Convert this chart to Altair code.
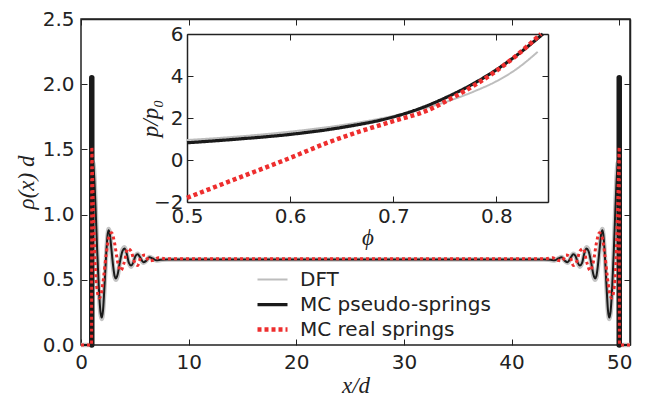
import altair as alt
import pandas as pd

# ---------------- main panel: density profiles rho(x) d vs x/d ----------------
dft_x = [0, 0.98, 1.0, 1.05, 1.12, 1.22, 1.35, 1.5, 1.65, 1.8, 1.92, 2.05, 2.2, 2.35, 2.48,
         2.57, 2.68, 2.82, 2.98, 3.12, 3.25, 3.4, 3.6, 3.85, 4.05, 4.25, 4.45, 4.65, 4.85,
         5.05, 5.27, 5.5, 5.79, 6.05, 6.35, 6.65, 7.0, 7.4, 8.0, 25.5,
         43.0, 43.6, 44.0, 44.35, 44.65, 44.95, 45.21, 45.5, 45.73, 45.95, 46.15, 46.35,
         46.55, 46.75, 46.95, 47.15, 47.4, 47.6, 47.75, 47.88, 48.02, 48.18, 48.32, 48.43,
         48.52, 48.65, 48.8, 48.95, 49.08, 49.2, 49.35, 49.5, 49.65, 49.78, 49.88, 49.95,
         50.0, 50.02, 51.0]
dft_y = [0, 0, 1.05, 1.36, 1.40, 1.33, 1.08, 0.74, 0.44, 0.25, 0.20, 0.26, 0.47, 0.71, 0.85,
         0.89, 0.86, 0.74, 0.60, 0.52, 0.50, 0.53, 0.63, 0.73, 0.75, 0.70, 0.63, 0.60, 0.63,
         0.68, 0.70, 0.67, 0.63, 0.645, 0.675, 0.665, 0.648, 0.652, 0.656, 0.656,
         0.656, 0.652, 0.648, 0.665, 0.675, 0.645, 0.63, 0.67, 0.70, 0.68, 0.63, 0.60,
         0.63, 0.70, 0.75, 0.73, 0.63, 0.53, 0.50, 0.52, 0.60, 0.74, 0.86, 0.89,
         0.85, 0.71, 0.47, 0.26, 0.20, 0.25, 0.44, 0.74, 1.08, 1.33, 1.40, 1.36,
         1.05, 0, 0]

mcp_x = [0, 0.98, 1.0, 1.05, 1.12, 1.22, 1.35, 1.5, 1.65, 1.8, 1.92, 2.05, 2.2, 2.35, 2.48,
         2.57, 2.68, 2.82, 2.98, 3.12, 3.25, 3.4, 3.6, 3.85, 4.05, 4.25, 4.45, 4.65, 4.85,
         5.05, 5.27, 5.5, 5.79, 6.05, 6.35, 6.65, 7.0, 7.4, 8.0, 25.5,
         43.0, 43.6, 44.0, 44.35, 44.65, 44.95, 45.21, 45.5, 45.73, 45.95, 46.15, 46.35,
         46.55, 46.75, 46.95, 47.15, 47.4, 47.6, 47.75, 47.88, 48.02, 48.18, 48.32, 48.43,
         48.52, 48.65, 48.8, 48.95, 49.08, 49.2, 49.35, 49.5, 49.65, 49.78, 49.88, 49.95,
         50.0, 50.02, 51.0]
mcp_y = [0, 0, 2.05, 1.42, 1.38, 1.30, 1.06, 0.73, 0.45, 0.26, 0.21, 0.27, 0.48, 0.71, 0.85,
         0.88, 0.85, 0.74, 0.61, 0.53, 0.51, 0.54, 0.63, 0.72, 0.74, 0.70, 0.63, 0.61, 0.63,
         0.68, 0.695, 0.67, 0.635, 0.645, 0.672, 0.664, 0.649, 0.653, 0.656, 0.656,
         0.656, 0.653, 0.649, 0.664, 0.672, 0.645, 0.635, 0.67, 0.695, 0.68, 0.63, 0.61,
         0.63, 0.70, 0.74, 0.72, 0.63, 0.54, 0.51, 0.53, 0.61, 0.74, 0.85, 0.88,
         0.85, 0.71, 0.48, 0.27, 0.21, 0.26, 0.45, 0.73, 1.06, 1.30, 1.38, 1.42,
         2.05, 0, 0]

mcr_x = [0, 0.98, 1.0, 1.06, 1.15, 1.3, 1.5, 1.7, 1.9, 2.1, 2.35, 2.6, 2.85, 3.1, 3.4, 3.7,
         4.0, 4.35, 4.65, 4.95, 5.25, 5.6, 5.95, 6.3, 6.7, 7.2, 7.8, 25.5,
         43.2, 43.8, 44.3, 44.7, 45.05, 45.4, 45.75, 46.05, 46.35, 46.65, 47.0, 47.3,
         47.6, 47.9, 48.15, 48.4, 48.65, 48.9, 49.1, 49.3, 49.5, 49.7, 49.85, 49.94,
         50.0, 50.02, 51.0]
mcr_y = [0, 0, 1.52, 1.35, 1.05, 0.65, 0.42, 0.36, 0.40, 0.52, 0.70, 0.83, 0.86, 0.79, 0.64,
         0.57, 0.63, 0.74, 0.72, 0.64, 0.61, 0.68, 0.69, 0.645, 0.65, 0.67, 0.662, 0.662,
         0.662, 0.67, 0.65, 0.645, 0.69, 0.68, 0.61, 0.64, 0.72, 0.74, 0.63, 0.57,
         0.64, 0.79, 0.86, 0.83, 0.70, 0.52, 0.40, 0.36, 0.42, 0.65, 1.05, 1.35,
         1.52, 0, 0]

spike_x = [1.0, 1.0, 50.0, 50.0]
spike_y = [0.0, 2.05, 0.0, 2.05]
spike_side = ["left", "left", "right", "right"]

# ---------------- inset: p/p0 vs phi ----------------
phi_dft = [0.5, 0.55, 0.6, 0.65, 0.7, 0.75, 0.78, 0.8, 0.82, 0.84]
p_dft = [0.95, 1.12, 1.35, 1.66, 2.1, 2.75, 3.3, 3.75, 4.35, 5.15]
phi_mcp = [0.5, 0.55, 0.6, 0.65, 0.7, 0.72, 0.75, 0.78, 0.8, 0.82, 0.845]
p_mcp = [0.82, 1.0, 1.22, 1.55, 2.05, 2.35, 2.95, 3.7, 4.3, 5.0, 6.0]
phi_mcr = [0.5, 0.55, 0.6, 0.635, 0.667, 0.7, 0.735, 0.755, 0.78, 0.8, 0.82, 0.843]
p_mcr = [-1.8, -0.85, 0.1, 0.8, 1.35, 1.85, 2.4, 2.9, 3.6, 4.25, 5.0, 6.0]

series_names = ["DFT", "MC pseudo-springs", "MC real springs"]
series_colors = ["#bdbdbd", "#1a1a1a", "#ee2e2e"]
series_widths = [2, 4.5, 4]
series_dash = [[1, 0], [1, 0], [4, 3]]

main_x_ticks = [0, 10, 20, 30, 40, 50]
main_y_ticks = [0.0, 0.5, 1.0, 1.5, 2.0, 2.5]
inset_x_ticks = [0.5, 0.6, 0.7, 0.8]
inset_y_ticks = [-2, 0, 2, 4, 6]

W, H = 549, 326
IX0, IX1, IY0, IY1 = 106, 467, 183, 15  # inset placement inside plot area (px)

df_dft = pd.DataFrame({"x": dft_x, "y": dft_y})
df_mcp = pd.DataFrame({"x": mcp_x, "y": mcp_y})
df_mcr = pd.DataFrame({"x": mcr_x, "y": mcr_y})
df_spk = pd.DataFrame({"x": spike_x, "y": spike_y, "side": spike_side})
di_dft = pd.DataFrame({"x": phi_dft, "y": p_dft, "series": series_names[0]})
di_mcp = pd.DataFrame({"x": phi_mcp, "y": p_mcp, "series": series_names[1]})
di_mcr = pd.DataFrame({"x": phi_mcr, "y": p_mcr, "series": series_names[2]})

mx = alt.Scale(domain=[0, 51], nice=False, zero=False)
my = alt.Scale(domain=[0, 2.5], nice=False, zero=False)
ix = alt.Scale(domain=[0.5, 0.85], range=[IX0, IX1], nice=False, zero=False)
iy = alt.Scale(domain=[-2, 6], range=[IY0, IY1], nice=False, zero=False)

TICK = 6

def tick_axis(orient, offset, values):
    return alt.Axis(orient=orient, offset=offset, values=values, labels=False,
                    domain=False, ticks=True, tickSize=TICK, title=None)

def tick_axis_dom(orient, offset, values):
    return alt.Axis(orient=orient, offset=offset, values=values, labels=False,
                    domain=True, ticks=True, tickSize=TICK, title=None)

A = alt.Chart(df_dft).mark_line(color="#c4c4c4", strokeWidth=4.5, interpolate="monotone").encode(
    x=alt.X("x:Q", scale=mx, axis=alt.Axis(orient="bottom", values=main_x_ticks, ticks=False,
                                           domain=False, labelPadding=7, title="x/d",
                                           titlePadding=2)),
    y=alt.Y("y:Q", scale=my, axis=alt.Axis(orient="left", values=main_y_ticks, format=".1f",
                                           ticks=False, domain=False, labelPadding=7,
                                           title="ρ(x) d", titlePadding=4)),
)
B = alt.Chart(df_mcp).mark_line(color="#1a1a1a", strokeWidth=2, interpolate="monotone").encode(
    x=alt.X("x:Q", scale=mx, axis=tick_axis("top", -H, main_x_ticks)),
    y=alt.Y("y:Q", scale=my, axis=tick_axis("right", -W, main_y_ticks)),
)
S = alt.Chart(df_spk).mark_line(color="#1a1a1a", strokeWidth=5.5, strokeCap="round").encode(
    x=alt.X("x:Q", scale=mx, axis=None),
    y=alt.Y("y:Q", scale=my, axis=None),
    detail="side:N",
)
C = alt.Chart(df_mcr).mark_line(color="#ee2e2e", strokeWidth=3, strokeDash=[3, 3],
                                interpolate="monotone").encode(
    x=alt.X("x:Q", scale=mx, axis=tick_axis_dom("bottom", -H, main_x_ticks)),
    y=alt.Y("y:Q", scale=my, axis=tick_axis_dom("left", -W, main_y_ticks)),
)

leg = alt.Legend(orient="none", legendX=174, legendY=248, title=None, symbolType="stroke",
                 symbolSize=900, clipHeight=25, labelFontSize=20, labelFont="DejaVu Sans",
                 labelColor="#222", labelOffset=10, rowPadding=0, padding=0, labelLimit=0)
col = alt.Color("series:N", scale=alt.Scale(domain=series_names, range=series_colors), legend=leg)
sw = alt.StrokeWidth("series:N", scale=alt.Scale(domain=series_names, range=series_widths), legend=leg)
sd = alt.StrokeDash("series:N", scale=alt.Scale(domain=series_names, range=series_dash), legend=leg)

D = alt.Chart(di_dft).mark_line(interpolate="monotone").encode(
    x=alt.X("x:Q", scale=ix, axis=alt.Axis(orient="bottom", offset=-(H - IY0), values=inset_x_ticks,
                                           format=".1f", ticks=False, domain=True, labelPadding=4,
                                           title="ϕ", titlePadding=0)),
    y=alt.Y("y:Q", scale=iy, axis=alt.Axis(orient="left", offset=-IX0, values=inset_y_ticks,
                                           format="d", ticks=False, domain=True, labelPadding=4,
                                           title="p/p₀", titleX=-25)),
    color=col, strokeWidth=sw, strokeDash=sd,
)
E = alt.Chart(di_mcp).mark_line(interpolate="monotone").encode(
    x=alt.X("x:Q", scale=ix, axis=tick_axis_dom("bottom", -(H - IY1), inset_x_ticks)),
    y=alt.Y("y:Q", scale=iy, axis=tick_axis_dom("left", -IX1, inset_y_ticks)),
    color=col, strokeWidth=sw, strokeDash=sd,
)
F = alt.Chart(di_mcr).mark_line(interpolate="monotone").encode(
    x=alt.X("x:Q", scale=ix, axis=tick_axis("top", -IY0, inset_x_ticks)),
    y=alt.Y("y:Q", scale=iy, axis=tick_axis("right", -(W - IX0), inset_y_ticks)),
    color=col, strokeWidth=sw, strokeDash=sd,
)

chart = alt.layer(A, B, S, C, D, E, F).resolve_scale(
    x="independent", y="independent"
).properties(
    width=W, height=H,
    autosize=alt.AutoSizeParams(type="none"),
    padding={"left": 73, "top": 11, "right": 8, "bottom": 52},
).configure_view(
    stroke="#222", strokeWidth=1.5
).configure_axis(
    labelFont="DejaVu Sans", labelFontSize=20, labelColor="#222",
    tickColor="#222", tickWidth=1, domainColor="#222", domainWidth=1.5,
    grid=False, labelFlush=False, labelOverlap=False,
    titleFont="Liberation Serif", titleFontStyle="italic", titleFontWeight="normal",
    titleFontSize=23, titleColor="#222",
)

chart.save("out.html", embed_options={"renderer": "svg", "actions": False})
